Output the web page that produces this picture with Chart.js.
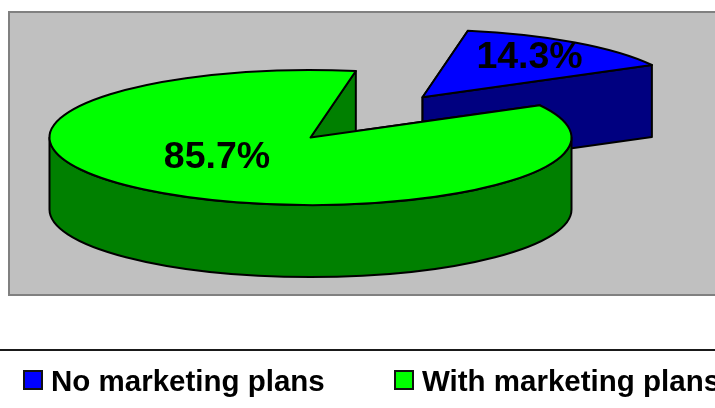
<!DOCTYPE html>
<html>
<head>
<meta charset="utf-8">
<title>Marketing plans</title>
<script src="https://cdn.jsdelivr.net/npm/chart.js@4/dist/chart.umd.min.js"></script>
<style>
    html, body { margin: 0; padding: 0; background: #fff; overflow: hidden; width: 715px; height: 408px; }
    #wrap { position: relative; width: 715px; height: 408px; overflow: hidden; }
    #legend { position: absolute; left: 0; top: 349px; width: 715px; height: 59px; border-top: 2px solid #1a1a1a; }
    .item { position: absolute; top: 13px; white-space: nowrap; font: bold 29.5px "Liberation Sans", Arial, sans-serif; color: #000; line-height: 34px; }
    .item i { position: absolute; left: -28px; top: 6px; width: 16px; height: 16px; border: 2px solid #111; box-sizing: content-box; }
</style>
</head>
<body>
<div id="wrap">
    <canvas id="pieCanvas" width="715" height="408"></canvas>
    <div id="legend"></div>
</div>
<script>
const categories = ['No marketing plans', 'With marketing plans'];
const shares = [14.3, 85.7];
const topColors = ['#0000FF', '#00FF00'];
const sideColors = ['#000080', '#008000'];

const legendLeft = [51, 422];       // text start of each legend entry
const labelShift = [[107, -39.5], [-93.5, 20]];   // percent label, relative to the slice tip

const centerX = 310.5;
const centerY = 137.5;
const libRadius = 100;
const scaleX = 2.61;    // library radius -> ellipse
const scaleY = 0.675;
const depth = 72;

// slice outline as an ellipse wedge, using the angles the library worked out
function wedgePath(ctx, tip, arc) {
    ctx.beginPath();
    ctx.moveTo(tip.x, tip.y);
    ctx.ellipse(tip.x, tip.y, libRadius * scaleX, libRadius * scaleY, 0, arc.startAngle, arc.endAngle);
    ctx.closePath();
}

function rimPoint(tip, angle) {
    return {
        x: tip.x + Math.cos(angle) * libRadius * scaleX,
        y: tip.y + Math.sin(angle) * libRadius * scaleY
    };
}

function drawCutFace(ctx, tip, angle) {
    const p = rimPoint(tip, angle);
    ctx.beginPath();
    ctx.moveTo(tip.x, tip.y);
    ctx.lineTo(p.x, p.y);
    ctx.lineTo(p.x, p.y + depth);
    ctx.lineTo(tip.x, tip.y + depth);
    ctx.closePath();
    ctx.fill();
    ctx.stroke();
}

// only the part of the rim between 0 and PI faces the viewer
function drawRim(ctx, tip, arc) {
    const from = Math.max(arc.startAngle, 0);
    const to = Math.min(arc.endAngle, Math.PI);
    if (arc.endAngle <= 0 || to <= from) return;
    const rx = libRadius * scaleX;
    const ry = libRadius * scaleY;
    ctx.beginPath();
    ctx.ellipse(tip.x, tip.y, rx, ry, 0, from, to);
    ctx.ellipse(tip.x, tip.y + depth, rx, ry, 0, to, from, true);
    ctx.closePath();
    ctx.fill();
    ctx.stroke();
}

const pie3d = {
    id: 'pie3d',
    beforeDatasetsDraw(chart) {
        const ctx = chart.ctx;
        const arcs = chart.getDatasetMeta(0).data;
        const dataset = chart.data.datasets[0];
        const total = dataset.data.reduce((a, b) => a + b, 0);
        ctx.save();
        ctx.lineWidth = 2;
        ctx.lineJoin = 'round';
        ctx.strokeStyle = '#000';

        const tips = arcs.map((arc) => {
            const mid = (arc.startAngle + arc.endAngle) / 2;
            const off = arc.options.offset || 0;
            return {
                x: centerX + Math.cos(mid) * off * scaleX,
                y: centerY + Math.sin(mid) * off * scaleY
            };
        });

        arcs.forEach((arc, i) => {
            ctx.fillStyle = sideColors[i];
            drawCutFace(ctx, tips[i], arc.startAngle);
            drawCutFace(ctx, tips[i], arc.endAngle);
            drawRim(ctx, tips[i], arc);
            ctx.fillStyle = dataset.backgroundColor[i];
            wedgePath(ctx, tips[i], arc);
            ctx.fill();
            ctx.stroke();
        });

        ctx.fillStyle = '#000';
        ctx.font = 'bold 37.5px "Liberation Sans", Arial, sans-serif';
        ctx.textAlign = 'center';
        ctx.textBaseline = 'middle';
        arcs.forEach((arc, i) => {
            const pct = (dataset.data[i] / total * 100).toFixed(1) + '%';
            ctx.fillText(pct, tips[i].x + labelShift[i][0], tips[i].y + labelShift[i][1]);
        });
        ctx.restore();
        return false;
    }
};

// grey plot background with its border
const plotBack = {
    id: 'plotBack',
    beforeDraw(chart) {
        const ctx = chart.ctx;
        ctx.save();
        ctx.fillStyle = '#C0C0C0';
        ctx.strokeStyle = '#808080';
        ctx.lineWidth = 2;
        ctx.fillRect(9, 12, 720, 283);
        ctx.strokeRect(9, 12, 720, 283);
        ctx.restore();
    }
};

new Chart(document.getElementById('pieCanvas'), {
    type: 'pie',
    data: {
        labels: categories,
        datasets: [{
            data: shares,
            backgroundColor: topColors,
            borderWidth: 0,
            radius: libRadius,
            offset: [73.5, 0]
        }]
    },
    options: {
        responsive: false,
        animation: false,
        rotation: 10,
        layout: { padding: 0 },
        plugins: { legend: { display: false }, tooltip: { enabled: false } }
    },
    plugins: [plotBack, pie3d]
});

const legendBox = document.getElementById('legend');
categories.forEach((name, i) => {
    const item = document.createElement('div');
    item.className = 'item';
    item.style.left = legendLeft[i] + 'px';
    item.textContent = name;
    const swatch = document.createElement('i');
    swatch.style.background = topColors[i];
    item.appendChild(swatch);
    legendBox.appendChild(item);
});
</script>
</body>
</html>
